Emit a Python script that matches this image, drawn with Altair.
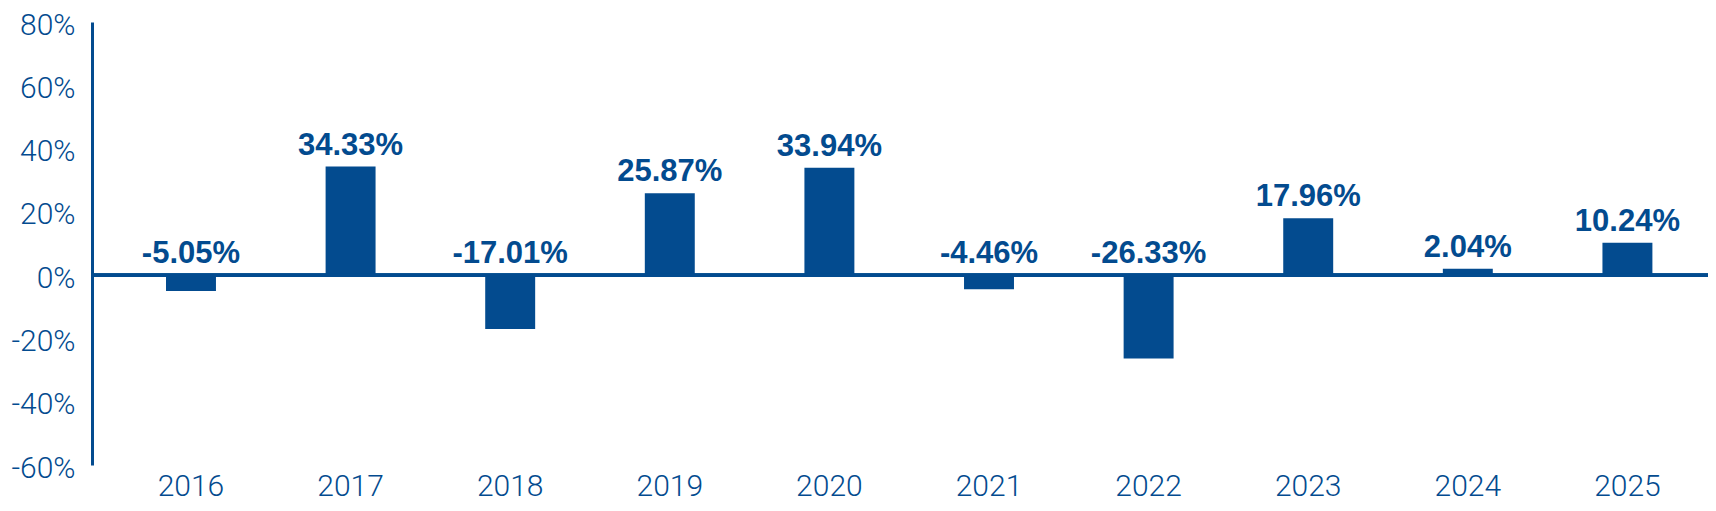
import altair as alt
import pandas as pd

years = ["2016", "2017", "2018", "2019", "2020", "2021", "2022", "2023", "2024", "2025"]
returns = [-5.05, 34.33, -17.01, 25.87, 33.94, -4.46, -26.33, 17.96, 2.04, 10.24]
labels = ["-5.05%", "34.33%", "-17.01%", "25.87%", "33.94%", "-4.46%", "-26.33%", "17.96%", "2.04%", "10.24%"]

BLUE = "#034b8f"

df = pd.DataFrame({"year": years, "ret": returns, "label": labels})

xscale = alt.Scale(paddingInner=0.687, paddingOuter=0.406, align=0.571)
yscale = alt.Scale(domain=[-60, 80], nice=False, zero=False)

x = alt.X("year:N", scale=xscale, sort=years,
          axis=alt.Axis(title=None, domain=False, ticks=False, labelAngle=0,
                        labelFont="Roboto", labelFontWeight=300, labelFontSize=30,
                        labelColor=BLUE, labelPadding=30, labelBaseline="alphabetic"))

y = alt.Y("ret:Q", scale=yscale,
          axis=alt.Axis(title=None, values=[-60, -40, -20, 0, 20, 40, 60, 80],
                        labelExpr="datum.value + '%'", grid=False, ticks=False,
                        domain=True, domainColor=BLUE, domainWidth=3,
                        labelFont="Roboto", labelFontWeight=300, labelFontSize=30,
                        labelColor=BLUE, labelPadding=17, labelOffset=3))

bars = alt.Chart(df).mark_bar(color=BLUE).encode(x=x, y=y)

zero = alt.Chart(df).mark_rule(color=BLUE, strokeWidth=3).encode(y=alt.datum(0))

text = alt.Chart(df).transform_calculate(
    ypos="max(datum.ret, 0)"
).mark_text(
    color=BLUE, font="Liberation Sans", fontWeight="bold", fontSize=31,
    baseline="alphabetic", align="center", dy=-12
).encode(
    x=alt.X("year:N", sort=years),
    y=alt.Y("ypos:Q"),
    text="label:N",
)

chart = alt.layer(bars, zero, text).properties(
    width=1616, height=443,
    autosize=alt.AutoSizeParams(type="none"),
    padding={"left": 84, "top": 14, "right": 0, "bottom": 38},
).configure_view(stroke=None)

chart.save("out.html", embed_options={"renderer": "svg", "actions": False})
